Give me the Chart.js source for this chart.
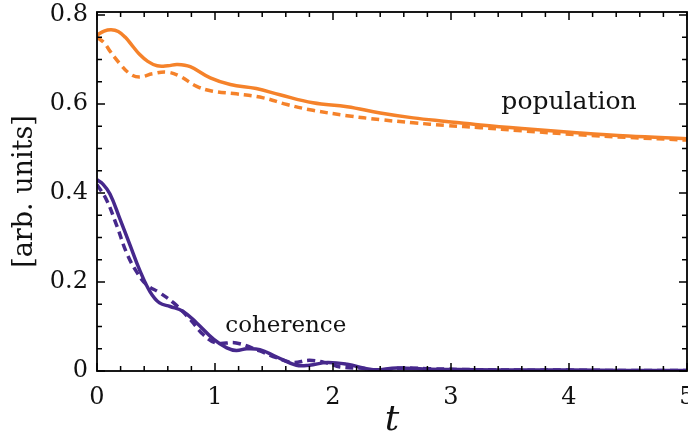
<!DOCTYPE html>
<html>
<head>
<meta charset="utf-8">
<script src="https://cdn.jsdelivr.net/npm/chart.js@4/dist/chart.umd.min.js"></script>
<style>
  html, body { margin: 0; padding: 0; background: #fff; }
  #wrap { width: 688px; height: 437px; }
</style>
</head>
<body>
<div id="wrap"><canvas id="c" width="688" height="437"></canvas></div>
<script>
// ---- data ----
const tPopSolid = [0, 0.06, 0.12, 0.18, 0.24, 0.30, 0.36, 0.43, 0.51, 0.60, 0.68, 0.79, 0.96, 1.13, 1.35, 1.55, 1.83, 2.12, 2.40, 2.68, 2.96, 3.25, 3.6, 4.09, 4.5, 5.0];
const popSolid  = [0.755, 0.764, 0.767, 0.763, 0.750, 0.731, 0.712, 0.696, 0.686, 0.686, 0.689, 0.684, 0.659, 0.644, 0.635, 0.621, 0.603, 0.594, 0.580, 0.569, 0.561, 0.553, 0.545, 0.535, 0.528, 0.522];

const tPopDash = [0, 0.06, 0.11, 0.19, 0.28, 0.36, 0.47, 0.59, 0.70, 0.845, 0.98, 1.18, 1.41, 1.61, 1.83, 2.12, 2.40, 2.68, 2.96, 3.25, 3.6, 4.09, 4.5, 5.0];
const popDash  = [0.750, 0.738, 0.719, 0.692, 0.668, 0.661, 0.668, 0.672, 0.663, 0.640, 0.629, 0.623, 0.614, 0.599, 0.586, 0.574, 0.565, 0.558, 0.552, 0.547, 0.540, 0.531, 0.525, 0.519];

const tCohSolid = [0, 0.05, 0.11, 0.19, 0.28, 0.36, 0.45, 0.53, 0.62, 0.73, 0.845, 0.99, 1.10, 1.18, 1.27, 1.38, 1.52, 1.69, 1.80, 1.95, 2.12, 2.34, 2.54, 2.82, 3.2, 3.6, 4.0, 4.5, 5.0];
const cohSolid  = [0.430, 0.420, 0.398, 0.345, 0.283, 0.228, 0.178, 0.153, 0.145, 0.134, 0.108, 0.071, 0.052, 0.046, 0.050, 0.048, 0.032, 0.013, 0.013, 0.019, 0.015, 0.003, 0.007, 0.004, 0.003, 0.002, 0.002, 0.001, 0.001];

const tCohDash = [0, 0.08, 0.17, 0.25, 0.34, 0.42, 0.53, 0.65, 0.79, 0.90, 1.01, 1.18, 1.38, 1.52, 1.66, 1.80, 1.95, 2.06, 2.25, 2.37, 2.59, 2.82, 3.2, 3.6, 4.0, 4.5, 5.0];
const cohDash  = [0.419, 0.385, 0.325, 0.266, 0.221, 0.194, 0.176, 0.153, 0.116, 0.082, 0.063, 0.063, 0.045, 0.030, 0.019, 0.024, 0.018, 0.009, 0.006, 0.002, 0.007, 0.005, 0.003, 0.002, 0.002, 0.001, 0.001];

const xTicks = [0, 1, 2, 3, 4, 5];
const yTicks = [0, 0.2, 0.4, 0.6, 0.8];
const xMinorStep = 0.2;
const yMinorStep = 0.05;
const labels = [
  { text: 'population', t: 4.0, v: 0.603, size: 25 },
  { text: 'coherence',  t: 1.6, v: 0.100, size: 23 }
];

const ORANGE = '#F5822A';
const PURPLE = '#46288C';
const FONT = "'DejaVu Serif', serif";

function pts(xs, ys) { return xs.map((x, i) => ({ x: x, y: ys[i] })); }

function ds(xs, ys, color, dashed) {
  return {
    data: pts(xs, ys),
    borderColor: color,
    borderWidth: 3.5,
    borderDash: dashed ? [8, 5] : [],
    pointRadius: 0,
    fill: false,
    tension: 0.4
  };
}

const framePlugin = {
  id: 'frame',
  afterDatasetsDraw(chart) {
    const { ctx, chartArea: a, scales: { x, y } } = chart;
    ctx.save();
    ctx.strokeStyle = '#000';
    ctx.lineWidth = 1.5;
    ctx.beginPath();
    for (let k = 0; k <= 25; k++) {
      const v = k * xMinorStep;
      const px = x.getPixelForValue(v);
      const major = (k % 5) === 0;
      const L = major ? 8 : 5;
      ctx.moveTo(px, a.bottom); ctx.lineTo(px, a.bottom - L);
      ctx.moveTo(px, a.top); ctx.lineTo(px, a.top + L);
    }
    for (let k = 0; k * yMinorStep <= y.max + 1e-9; k++) {
      const v = k * yMinorStep;
      const py = y.getPixelForValue(v);
      const major = (k % 4) === 0;
      const L = major ? 8 : 5;
      ctx.moveTo(a.left, py); ctx.lineTo(a.left + L, py);
      ctx.moveTo(a.right, py); ctx.lineTo(a.right - L, py);
    }
    ctx.stroke();
    ctx.lineWidth = 1.8;
    ctx.strokeRect(a.left, a.top, a.right - a.left, a.bottom - a.top);
    ctx.fillStyle = '#111';
    ctx.textAlign = 'center';
    ctx.textBaseline = 'middle';
    labels.forEach(l => {
      ctx.font = l.size + 'px ' + FONT;
      ctx.fillText(l.text, x.getPixelForValue(l.t), y.getPixelForValue(l.v));
    });
    ctx.restore();
  }
};

new Chart(document.getElementById('c'), {
  type: 'line',
  data: {
    datasets: [
      ds(tPopSolid, popSolid, ORANGE, false),
      ds(tPopDash, popDash, ORANGE, true),
      ds(tCohSolid, cohSolid, PURPLE, false),
      ds(tCohDash, cohDash, PURPLE, true)
    ]
  },
  options: {
    responsive: false,
    animation: false,
    layout: { padding: { top: 12, right: 1, left: 0, bottom: 0 } },
    plugins: { legend: { display: false }, tooltip: { enabled: false } },
    scales: {
      x: {
        type: 'linear', min: 0, max: 5,
        grid: { display: false, drawTicks: false },
        border: { display: false },
        afterBuildTicks: s => { s.ticks = xTicks.map(v => ({ value: v })); },
        afterFit: s => { s.height = 66; s.paddingLeft = 0; s.paddingRight = 0; },
        ticks: { color: '#111', padding: 12, font: { family: FONT, size: 24 }, maxRotation: 0, autoSkip: false },
        title: { display: true, text: 't', color: '#111', padding: { top: 0, bottom: 0 },
                 font: { family: FONT, size: 36, style: 'italic', lineHeight: 0.9 } }
      },
      y: {
        type: 'linear', min: 0, max: 0.807,
        grid: { display: false, drawTicks: false },
        border: { display: false },
        afterBuildTicks: s => { s.ticks = yTicks.map(v => ({ value: v })); },
        afterFit: s => { s.width = 97; s.paddingTop = 0; s.paddingBottom = 0; },
        ticks: { color: '#111', padding: 9, font: { family: FONT, size: 24 }, autoSkip: false },
        title: { display: true, text: '[arb. units]', color: '#111', padding: { top: 9, bottom: 0 },
                 font: { family: FONT, size: 27, lineHeight: 1.2 } }
      }
    }
  },
  plugins: [framePlugin]
});
</script>
</body>
</html>
